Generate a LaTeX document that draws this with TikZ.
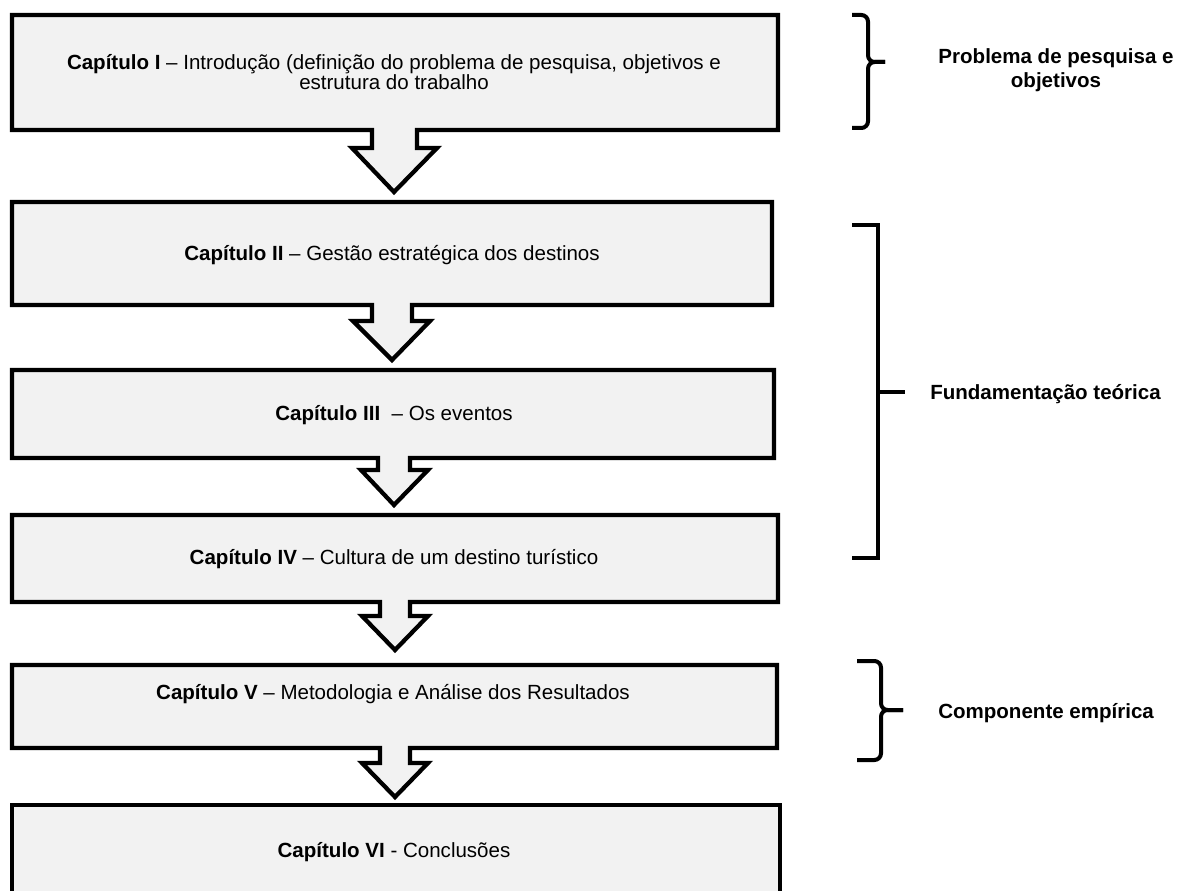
\documentclass[tikz,border=0pt]{standalone}
\usepackage{fontspec}
\setmainfont{Liberation Sans}
\definecolor{boxgray}{HTML}{F2F2F2}
\begin{document}
\begin{tikzpicture}[x=0.75pt,y=-0.75pt]
\useasboundingbox (0,0) rectangle (1180,891);
\clip (0,0) rectangle (1180,891);
\tikzset{
  chap/.style={draw=black, line width=3.2pt, fill=boxgray, line join=miter},
  lbl/.style={font=\fontsize{15.4}{13.6}\selectfont, inner sep=0pt, align=center},
  side/.style={font=\fontsize{15.4}{18}\selectfont\bfseries, inner sep=0pt, align=center},
  brk/.style={draw=black, line width=3.4pt},
  brace/.style={draw=black, line width=3pt, rounded corners=5},
}
% Box I with arrow
\path[chap] (12,15) -- (778,15) -- (778,130) -- (417,130) -- (417,148) -- (437,148)
  -- (394,192) -- (352,148) -- (372,148) -- (372,130) -- (12,130) -- cycle;
% Box II with arrow
\path[chap] (12,202) -- (772,202) -- (772,305) -- (412,305) -- (412,321) -- (430,321)
  -- (392,360) -- (353,321) -- (372,321) -- (372,305) -- (12,305) -- cycle;
% Box III with arrow
\path[chap] (12,370) -- (774,370) -- (774,458) -- (410,458) -- (410,470) -- (428,470)
  -- (394,505) -- (361,470) -- (378,470) -- (378,458) -- (12,458) -- cycle;
% Box IV with arrow
\path[chap] (12,515) -- (778,515) -- (778,602) -- (410,602) -- (410,616) -- (428,616)
  -- (395,650) -- (362,616) -- (380,616) -- (380,602) -- (12,602) -- cycle;
% Box V with arrow
\path[chap] (12,665) -- (777,665) -- (777,748) -- (410,748) -- (410,763) -- (428,763)
  -- (395,797) -- (362,763) -- (380,763) -- (380,748) -- (12,748) -- cycle;
% Box VI
\path[chap] (12,805) -- (780,805) -- (780,897) -- (12,897) -- cycle;

% Chapter texts
\node[lbl] (t1) at (394,72) {\textbf{Capítulo I} – Introdução (definição do problema de pesquisa, objetivos e\\estrutura do trabalho};
\node[lbl, anchor=base] (t2) at (392,260) {\textbf{Capítulo II} – Gestão estratégica dos destinos};
\node[lbl, anchor=base] (t3) at (394,420) {\textbf{Capítulo III} \ – Os eventos};
\node[lbl, anchor=base] (t4) at (394,564) {\textbf{Capítulo IV} – Cultura de um destino turístico};
\node[lbl, anchor=base] (t5) at (393,699) {\textbf{Capítulo V} – Metodologia e Análise dos Resultados};
\node[lbl, anchor=base] (t6) at (394,857) {\textbf{Capítulo VI} - Conclusões};

% Brackets
\draw[brace] (852,15) -- (868,15) -- (868,62) -- (885,62);
\draw[brace] (852,128) -- (868,128) -- (868,62) -- (885,62);
\draw[brk] (852,225) -- (878,225) -- (878,558) -- (852,558);
\draw[brk] (878,392) -- (905,392);
\draw[brace] (857,661) -- (881,661) -- (881,710) -- (903,710);
\draw[brace] (857,760) -- (881,760) -- (881,710) -- (903,710);

% Side labels
\node[side] (s1) at (1056,70) {Problema de pesquisa e\\objetivos};
\node[side, anchor=base west] (s2) at (930,399) {Fundamentação teórica};
\node[side, anchor=base west] (s3) at (938,718) {Componente empírica};
\end{tikzpicture}
\end{document}
